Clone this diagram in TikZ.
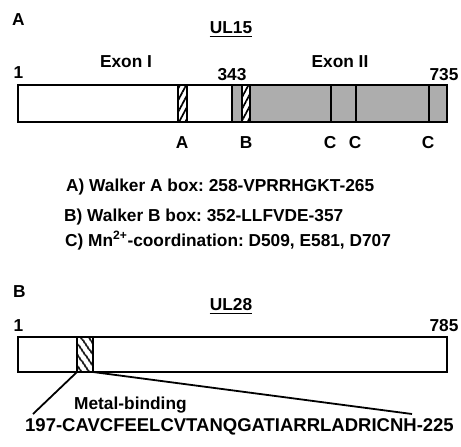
\documentclass[tikz,border=0pt]{standalone}
\usepackage{fontspec}
\setmainfont{Liberation Sans}
\usepackage{tikz}
\usetikzlibrary{patterns.meta}
\definecolor{exongray}{HTML}{ADADAD}
\frenchspacing
\tikzset{
  every picture/.style={font=\bfseries\fontsize{17.3}{20}\selectfont, line join=miter},
  every node/.style={inner sep=0pt},
  outline/.style={line width=2.4pt},
  hatchA/.style={pattern={Lines[angle=62,distance=5.5pt,line width=1.7pt]}},
  hatchB/.style={pattern={Lines[angle=-55,distance=6.5pt,line width=2pt]}},
}

\begin{document}
\begin{tikzpicture}[x=1pt,y=-1pt]
\useasboundingbox(0,0) rectangle (461,447);
% panel A: UL15
\node[anchor=base west](panA) at (12,25){A};
\node[anchor=base](ul15) at (231,33){UL15};
\draw[line width=1.6pt]([yshift=-3.5pt]ul15.base west)--([yshift=-3.5pt]ul15.base east);
\node[anchor=base](exon1) at (126,67){Exon I};
\node[anchor=base](exon2) at (340,67){Exon II};
\node[anchor=base](startA) at (18.5,78){1};
\node[anchor=base](splice) at (232,80){343};
\node[anchor=base](endA) at (444,80){735};
\fill[exongray](232,85) rectangle (447,122);
\fill[white](178,85) rectangle (187,122);
\fill[hatchA](178,85) rectangle (187,122);
\fill[white](242,85) rectangle (250,122);
\fill[hatchA](242,85) rectangle (250,122);
\draw[outline](178,85)--(178,122) (187,85)--(187,122)
  (242,85)--(242,122) (250,85)--(250,122) (232,85)--(232,122);
\foreach \x [count=\i] in {331,356,429}
  \draw[outline](\x,85)--(\x,122);
\draw[outline](18,85) rectangle (447,122);
\node[anchor=base](labA) at (182,148){A};
\node[anchor=base](labB) at (246,148){B};
\foreach \x [count=\i] in {330,355,428}
  \node[anchor=base](labC\i) at (\x,148){C};
\node[anchor=base west](walkerA) at (66,191){A) Walker A box: 258-VPRRHGKT-265};
\node[anchor=base west](walkerB) at (64,221){B) Walker B box: 352-LLFVDE-357};
\node[anchor=base west](mncoord) at (65,246){C) Mn\textsuperscript{2+}-coordination: D509, E581, D707};
% panel B: UL28
\node[anchor=base west](panB) at (13,297){B};
\node[anchor=base](ul28) at (231,310){UL28};
\draw[line width=1.6pt]([yshift=-3.5pt]ul28.base west)--([yshift=-3.5pt]ul28.base east);
\node[anchor=base](startB) at (18.5,331){1};
\node[anchor=base](endB) at (444,331){785};
\fill[white](77,337) rectangle (93,372);
\fill[hatchB](77,337) rectangle (93,372);
\draw[outline](77,337)--(77,372) (93,337)--(93,372);
\draw[outline](18,337) rectangle (447,372);
\coordinate(mbL) at (77,372);
\coordinate(mbR) at (93,372);
\coordinate(zoomL) at (33,414);
\coordinate(zoomR) at (412,414);
\draw[line width=1.8pt](mbL)--(zoomL) (mbR)--(zoomR);
\node[anchor=base west](metal) at (74,409){Metal-binding};
\node[anchor=base,font=\bfseries\fontsize{18.5}{20}\selectfont](seq) at (239.5,431){197-CAVCFEELCVTANQGATIARRLADRICNH-225};
\end{tikzpicture}
\end{document}
